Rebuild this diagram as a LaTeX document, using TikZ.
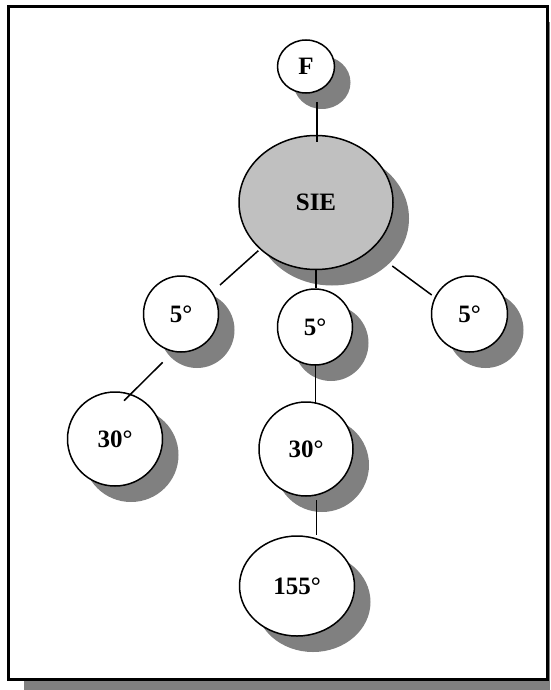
\documentclass[tikz,border=0pt]{standalone}
\usepackage{fontspec}
\setmainfont{Liberation Serif}
\usetikzlibrary{shapes.geometric,shadows}
\definecolor{shadowgray}{RGB}{128,128,128}
\definecolor{siegray}{RGB}{192,192,192}
\begin{document}
\begin{tikzpicture}[x=1pt,y=-1pt,
  bubble/.style={ellipse, draw, line width=1.5pt, fill=white, inner sep=0pt,
    font=\fontsize{25}{30}\selectfont\bfseries,
    drop shadow={shadow xshift=16pt, shadow yshift=-16pt, fill=shadowgray, opacity=1}},
  link/.style={line width=1.5pt}]
\useasboundingbox (0,0) rectangle (550,690);
\fill[shadowgray] (24,22) rectangle (550,690);
\draw[line width=3pt, fill=white] (8.5,6.5) rectangle (547.5,679.3);

\node[bubble, minimum width=57pt, minimum height=53pt] (F) at (306,66.5) {F};
\node[bubble, fill=siegray, minimum width=154pt, minimum height=134pt] (SIE) at (316,202.5) {SIE};
\node[bubble, minimum width=75pt, minimum height=76pt] (A5) at (181,314) {5°};
\node[bubble, minimum width=75pt, minimum height=76pt] (B5) at (315,327) {5°};
\node[bubble, minimum width=76pt, minimum height=76pt] (C5) at (469.5,314) {5°};
\node[bubble, minimum width=95pt, minimum height=94pt] (A30) at (115,439) {30°};
\node[bubble, minimum width=94pt, minimum height=94pt] (B30) at (306,449) {30°};
\node[bubble, minimum width=115pt, minimum height=100pt] (D155) at (297,586) {155°};

\draw[link] ([shift={(11,36)}]F.center) -- ([shift={(1,-61)}]SIE.center);
\draw[link] ([shift={(-57.7,48.2)}]SIE.center) -- ([shift={(39,-29)}]A5.center);
\draw[link] ([shift={(0,67.5)}]SIE.center) -- ([shift={(1,-38.7)}]B5.center);
\draw[link] ([shift={(76.3,63.5)}]SIE.center) -- ([shift={(-37.8,-19)}]C5.center);
\draw[link] ([shift={(-18.3,48.3)}]A5.center) -- ([shift={(9,-38.3)}]A30.center);
\draw[link] ([shift={(0.7,38)}]B5.center) -- ([shift={(9.7,-45)}]B30.center);
\draw[link] ([shift={(10.7,51)}]B30.center) -- ([shift={(19.7,-51)}]D155.center);
\end{tikzpicture}
\end{document}
